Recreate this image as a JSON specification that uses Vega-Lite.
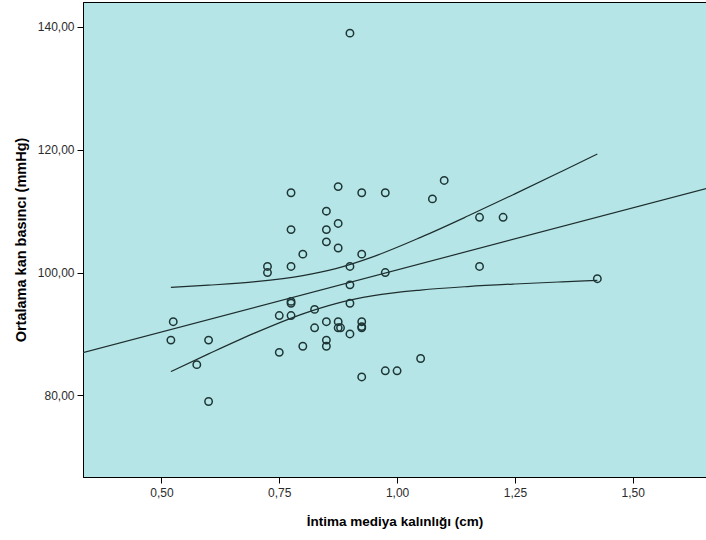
{
  "$schema": "https://vega.github.io/schema/vega-lite/v6.json",
  "autosize": {"type": "none"},
  "padding": {"left": 83, "top": 2, "right": 0, "bottom": 63},
  "width": 623,
  "height": 475,
  "background": "#ffffff",
  "config": {
    "view": {"fill": "#b5e5e7", "stroke": "#000000", "strokeWidth": 1},
    "font": "Liberation Sans"
  },
  "datasets": {
    "pts": [
      {"x": 0.52, "y": 89}, {"x": 0.525, "y": 92}, {"x": 0.575, "y": 85}, {"x": 0.6, "y": 89}, {"x": 0.6, "y": 79},
      {"x": 0.725, "y": 101}, {"x": 0.725, "y": 100}, {"x": 0.75, "y": 93}, {"x": 0.75, "y": 87},
      {"x": 0.775, "y": 113}, {"x": 0.775, "y": 107}, {"x": 0.775, "y": 101}, {"x": 0.775, "y": 95}, {"x": 0.775, "y": 95.3}, {"x": 0.775, "y": 93},
      {"x": 0.8, "y": 103}, {"x": 0.8, "y": 88}, {"x": 0.825, "y": 94}, {"x": 0.825, "y": 91},
      {"x": 0.85, "y": 110}, {"x": 0.85, "y": 107}, {"x": 0.85, "y": 105}, {"x": 0.85, "y": 92}, {"x": 0.85, "y": 89}, {"x": 0.85, "y": 88},
      {"x": 0.875, "y": 114}, {"x": 0.875, "y": 108}, {"x": 0.875, "y": 104}, {"x": 0.875, "y": 92}, {"x": 0.875, "y": 91}, {"x": 0.88, "y": 91},
      {"x": 0.9, "y": 139}, {"x": 0.9, "y": 101}, {"x": 0.9, "y": 98}, {"x": 0.9, "y": 95}, {"x": 0.9, "y": 90},
      {"x": 0.925, "y": 113}, {"x": 0.925, "y": 103}, {"x": 0.925, "y": 92}, {"x": 0.925, "y": 91}, {"x": 0.925, "y": 91.2}, {"x": 0.925, "y": 83},
      {"x": 0.975, "y": 113}, {"x": 0.975, "y": 100}, {"x": 0.975, "y": 84}, {"x": 1.0, "y": 84}, {"x": 1.05, "y": 86},
      {"x": 1.075, "y": 112}, {"x": 1.1, "y": 115}, {"x": 1.175, "y": 109}, {"x": 1.175, "y": 101}, {"x": 1.225, "y": 109}, {"x": 1.425, "y": 99}
    ],
    "lines": [
      {"s": "fit", "x": 0.333, "y": 86.96}, {"s": "fit", "x": 1.656, "y": 113.68},
      {"s": "upper", "x": 0.52, "y": 97.58}, {"s": "upper", "x": 0.6, "y": 97.94}, {"s": "upper", "x": 0.7, "y": 98.52}, {"s": "upper", "x": 0.8, "y": 99.5}, {"s": "upper", "x": 0.87, "y": 100.65}, {"s": "upper", "x": 0.95, "y": 102.6}, {"s": "upper", "x": 1.05, "y": 105.73}, {"s": "upper", "x": 1.15, "y": 109.2}, {"s": "upper", "x": 1.25, "y": 112.82}, {"s": "upper", "x": 1.35, "y": 116.51}, {"s": "upper", "x": 1.425, "y": 119.3},
      {"s": "lower", "x": 0.52, "y": 83.88}, {"s": "lower", "x": 0.6, "y": 86.76}, {"s": "lower", "x": 0.7, "y": 90.22}, {"s": "lower", "x": 0.8, "y": 93.28}, {"s": "lower", "x": 0.87, "y": 94.95}, {"s": "lower", "x": 0.95, "y": 96.24}, {"s": "lower", "x": 1.05, "y": 97.15}, {"s": "lower", "x": 1.15, "y": 97.72}, {"s": "lower", "x": 1.25, "y": 98.14}, {"s": "lower", "x": 1.35, "y": 98.49}, {"s": "lower", "x": 1.425, "y": 98.74}
    ]
  },
  "encoding": {
    "x": {
      "field": "x", "type": "quantitative",
      "scale": {"domain": [0.3335, 1.6556], "nice": false, "zero": false},
      "axis": {
        "title": "İntima mediya kalınlığı (cm)",
        "titleFont": "Liberation Sans", "titleFontSize": 13.5, "titleFontWeight": "bold", "titleColor": "#000000", "titlePadding": 16,
        "values": [0.5, 0.75, 1.0, 1.25, 1.5],
        "labelExpr": "replace(format(datum.value, '.2f'), '.', ',')",
        "labelFont": "Liberation Sans", "labelFontSize": 12, "labelColor": "#2b2b2b", "labelPadding": 4,
        "tickColor": "#000000", "tickSize": 6, "domainColor": "#000000", "grid": false
      }
    },
    "y": {
      "field": "y", "type": "quantitative",
      "scale": {"domain": [66.7, 144.07], "nice": false, "zero": false},
      "axis": {
        "title": "Ortalama kan basıncı (mmHg)",
        "titleFont": "Liberation Sans", "titleFontSize": 14.5, "titleFontWeight": "bold", "titleColor": "#000000", "titlePadding": 9,
        "values": [80, 100, 120, 140],
        "labelExpr": "replace(format(datum.value, '.2f'), '.', ',')",
        "labelFont": "Liberation Sans", "labelFontSize": 12, "labelColor": "#2b2b2b", "labelPadding": 3,
        "tickColor": "#000000", "tickSize": 6, "domainColor": "#000000", "grid": false
      }
    }
  },
  "layer": [
    {
      "data": {"name": "lines"},
      "mark": {"type": "line", "color": "#1e2e2e", "strokeWidth": 1.2, "interpolate": "monotone", "clip": true},
      "encoding": {"detail": {"field": "s", "type": "nominal"}}
    },
    {
      "data": {"name": "pts"},
      "mark": {"type": "point", "shape": "circle", "filled": false, "size": 55, "stroke": "#1e3535", "strokeWidth": 1.5, "opacity": 1},
      "encoding": {}
    }
  ]
}
